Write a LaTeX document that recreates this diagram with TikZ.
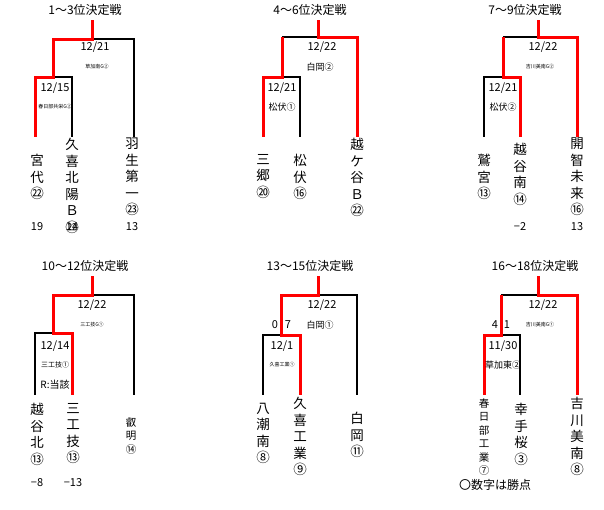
\documentclass[tikz,border=0pt]{standalone}
\usepackage{fontspec}
\setmainfont{Noto Sans CJK JP}
\usetikzlibrary{positioning}
\tikzset{
  win/.style={draw=red, line width=3pt},
  lose/.style={draw=black, line width=1.8pt},
  title/.style={font=\fontsize{12}{14}\selectfont},
  date/.style={font=\fontsize{11}{13}\selectfont},
  site/.style={font=\fontsize{9}{11}\selectfont},
  tiny/.style={font=\fontsize{5}{6}\selectfont},
  team/.style={anchor=north, align=center, inner sep=0pt, font=\fontsize{13.5}{16.5}\selectfont},
  smallteam/.style={anchor=north, align=center, inner sep=0pt, font=\fontsize{10.5}{13.5}\selectfont},
  score/.style={font=\fontsize{11}{13}\selectfont}
}
\begin{document}
\setlength{\lineskiplimit}{-20pt}
\begin{tikzpicture}[x=1pt,y=-1pt]
        \useasboundingbox (0,0) rectangle (604,509);
        % 1-3
        \node[title] (t1) at (85,10) {1～3位決定戦};
        \draw[lose] (92,39)--(134,39)--(134,137);
        \draw[lose] (53,77)--(72,77)--(72,137);
        \draw[win] (92,20)--(92,39)--(53,39)--(53,77)--(35,77)--(35,137);
        \node[date] (d1a) at (95,47) {12/21};
        \node[tiny] (s1a) at (97,67) {草加南G②};
        \node[date] (d1b) at (55,88) {12/15};
        \node[tiny] (s1b) at (55,107) {春日部共栄G②};
        \node[team] (n1a) at (37,154) {宮\\代\\㉒};
        \node[team] (n1b) at (72,138) {久\\喜\\北\\陽\\Ｂ\\㉒};
        \node[team] (n1c) at (132,138) {羽\\生\\第\\一\\㉓};
        \node[score] at (37,227) {19};
        \node[score] at (72,227) {14};
        \node[score] at (132,227) {13};
        % 4-6
        \node[title] (t2) at (310,10) {4～6位決定戦};
        \draw[lose] (318,37)--(282,37);
        \draw[lose] (282,77)--(300,77)--(300,137);
        \draw[win] (318,20)--(318,37)--(357,37)--(357,137);
        \draw[win] (282,37)--(282,77)--(263,77)--(263,137);
        \node[date] (d2a) at (322,47) {12/22};
        \node[site] (s2a) at (320,67) {白岡②};
        \node[date] (d2b) at (282,88) {12/21};
        \node[site] (s2b) at (282,107) {松伏①};
        \node[team] (n2a) at (263,154) {三\\郷\\⑳};
        \node[team] (n2b) at (300,154) {松\\伏\\⑯};
        \node[team] (n2c) at (357,138) {越\\ケ\\谷\\Ｂ\\㉒};
        % 7-9
        \node[title] (t3) at (525,10) {7～9位決定戦};
        \draw[lose] (538,37)--(503,37);
        \draw[lose] (503,77)--(484,77)--(484,137);
        \draw[win] (538,20)--(538,37)--(577,37)--(577,137);
        \draw[win] (503,37)--(503,77)--(520,77)--(520,137);
        \node[date] (d3a) at (543,47) {12/22};
        \node[tiny] (s3a) at (540,67) {吉川美南G②};
        \node[date] (d3b) at (503,88) {12/21};
        \node[site] (s3b) at (503,107) {松伏②};
        \node[team] (n3a) at (484,154) {鷲\\宮\\⑬};
        \node[team] (n3b) at (520,143) {越\\谷\\南\\⑭};
        \node[team] (n3c) at (577,138) {開\\智\\未\\来\\⑯};
        \node[score] at (520,227) {−2};
        \node[score] at (577,227) {13};
        % 10-12
        \node[title] (t4) at (85,266) {10～12位決定戦};
        \draw[lose] (92,295)--(134,295)--(134,395);
        \draw[lose] (53,333)--(35,333)--(35,395);
        \draw[win] (92,276)--(92,295)--(53,295)--(53,333)--(72,333)--(72,395);
        \node[date] (d4a) at (92,305) {12/22};
        \node[tiny] (s4a) at (92,325) {三工技G①};
        \node[date] (d4b) at (55,346) {12/14};
        \node[tiny, font=\fontsize{7}{8}\selectfont] (s4b) at (55,365) {三工技①};
        \node[site, font=\fontsize{10}{12}\selectfont] (r4) at (55,385) {R:当該};
        \node[team] (n4a) at (37,403) {越\\谷\\北\\⑬};
        \node[team] (n4b) at (73,403) {三\\工\\技\\⑬};
        \node[smallteam] (n4c) at (131,417) {叡\\明\\⑭};
        \node[score] at (37,483) {−8};
        \node[score] at (73,483) {−13};
        % 13-15
        \node[title] (t5) at (310,266) {13～15位決定戦};
        \draw[lose] (318,295)--(357,295)--(357,395);
        \draw[lose] (281,335)--(263,335)--(263,395);
        \draw[win] (318,276)--(318,295)--(281,295)--(281,335)--(300,335)--(300,395);
        \node[date] (d5a) at (322,305) {12/22};
        \node[site] (s5a) at (320,325) {白岡①};
        \node[date] (p5a) at (275,325) {0};
        \node[date] (p5b) at (288,325) {7};
        \node[date] (d5b) at (282,346) {12/1};
        \node[tiny] (s5b) at (282,365) {久喜工業①};
        \node[team] (n5a) at (263,403) {八\\潮\\南\\⑧};
        \node[team] (n5b) at (300,397) {久\\喜\\工\\業\\⑨};
        \node[team] (n5c) at (357,412) {白\\岡\\⑪};
        % 16-18
        \node[title] (t6) at (535,266) {16～18位決定戦};
        \draw[lose] (538,295)--(501,295);
        \draw[lose] (501,335)--(520,335)--(520,395);
        \draw[win] (538,276)--(538,295)--(577,295)--(577,395);
        \draw[win] (501,295)--(501,335)--(484,335)--(484,395);
        \node[date] (d6a) at (543,305) {12/22};
        \node[tiny] (s6a) at (540,325) {吉川美南G①};
        \node[date] (p6a) at (495,325) {4};
        \node[date] (p6b) at (507,325) {1};
        \node[date] (d6b) at (503,346) {11/30};
        \node[site] (s6b) at (503,365) {草加東②};
        \node[smallteam] (n6a) at (484,398) {春\\日\\部\\工\\業\\⑦};
        \node[team] (n6b) at (521,403) {幸\\手\\桜\\③};
        \node[team] (n6c) at (577,397) {吉\\川\\美\\南\\⑧};
        \node[title] (key) at (495,485) {〇数字は勝点};
\end{tikzpicture}
\end{document}
